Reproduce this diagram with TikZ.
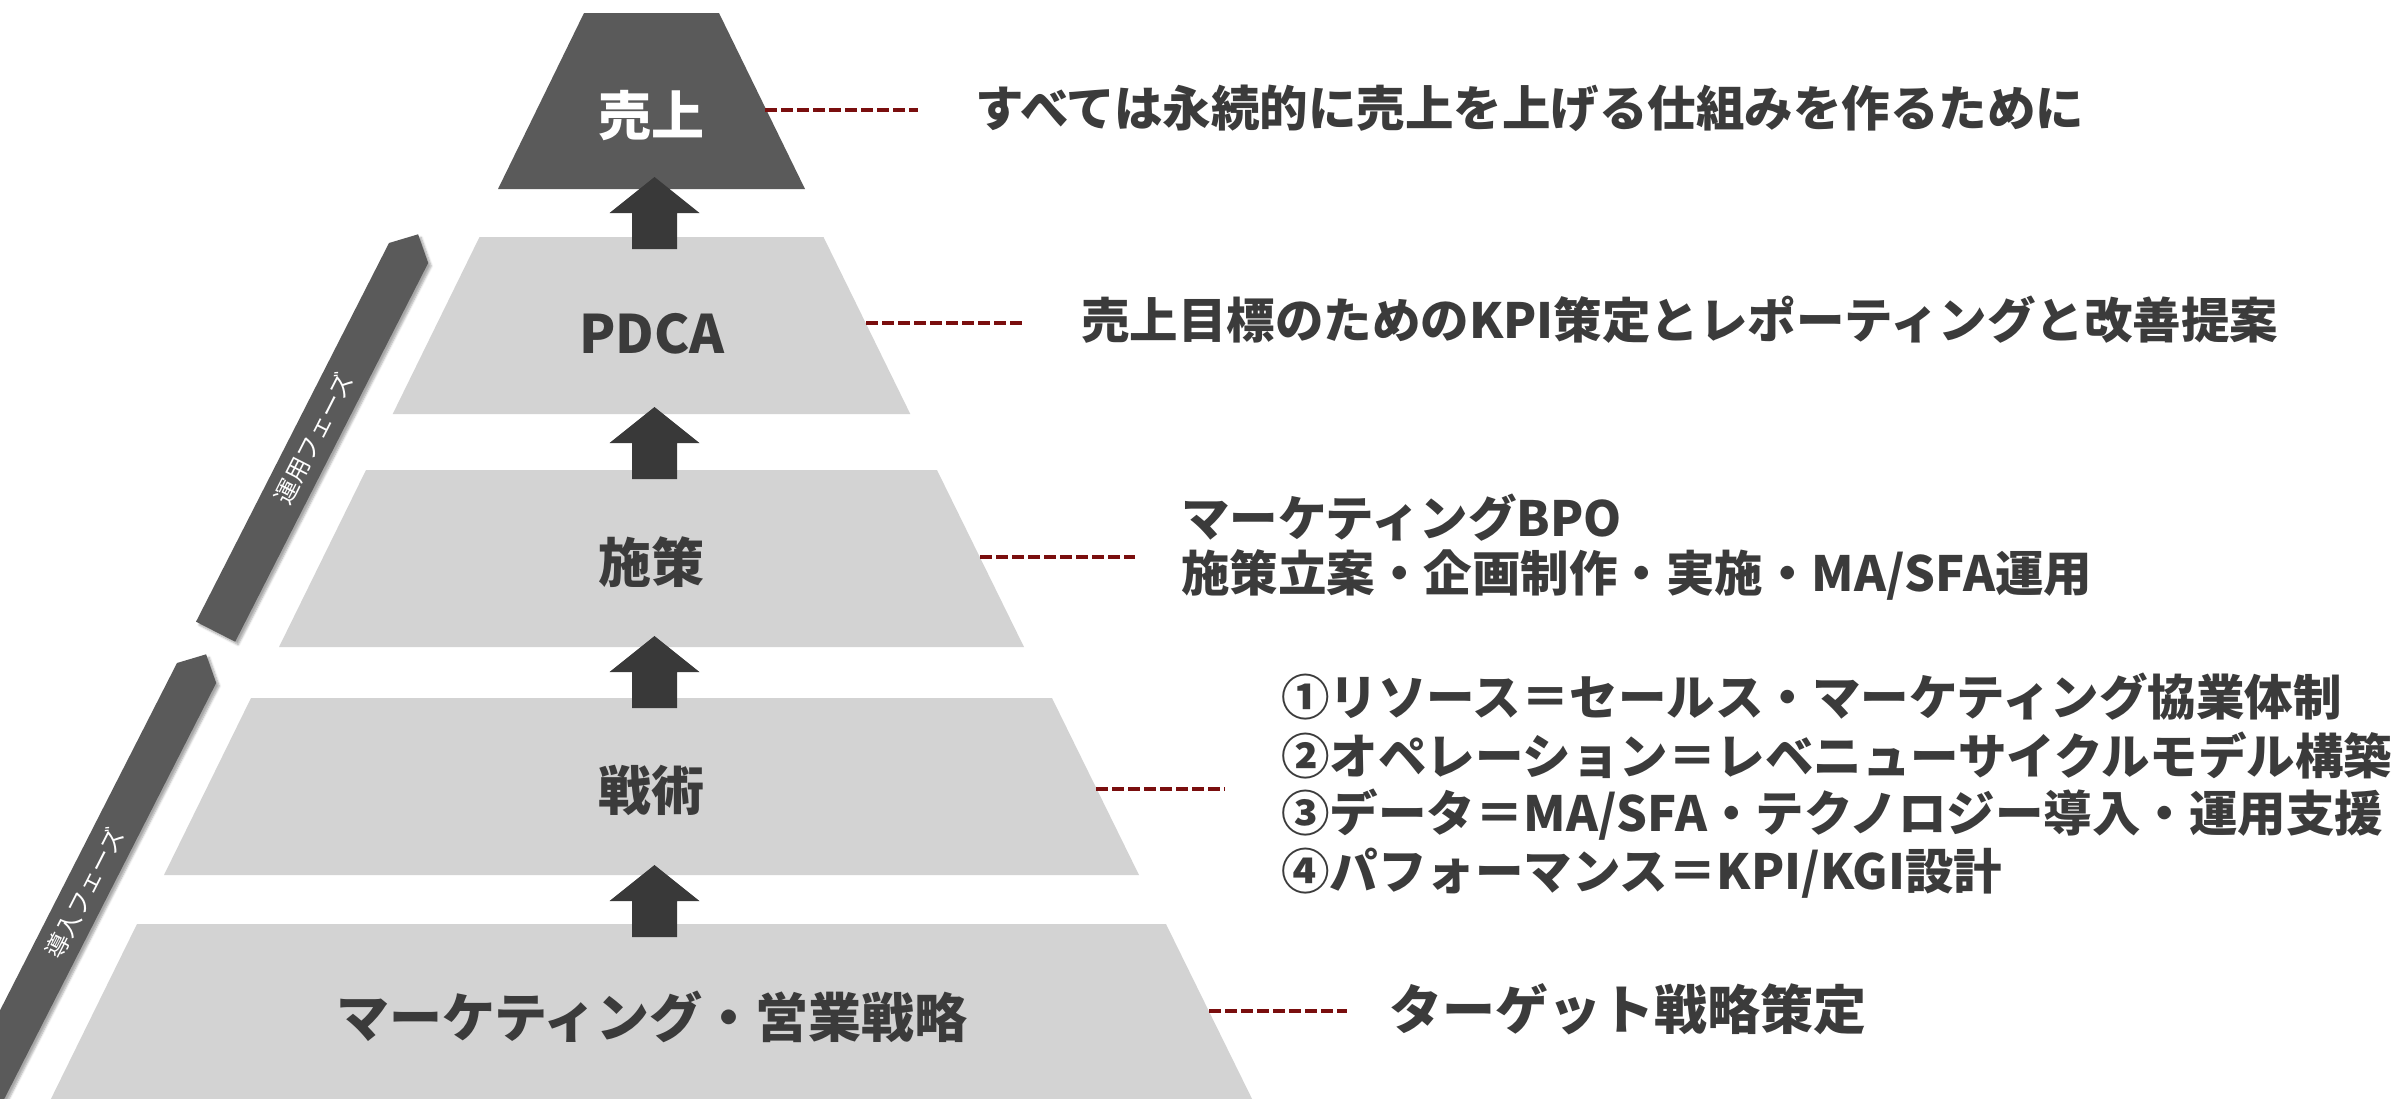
\documentclass[tikz,border=0pt]{standalone}
\usepackage{fontspec}
\setmainfont{Noto Sans CJK JP}
\usetikzlibrary{shadows.blur}
\definecolor{darkfill}{RGB}{90,90,90}
\definecolor{lightfill}{RGB}{211,211,211}
\definecolor{arrowfill}{RGB}{57,57,57}
\definecolor{txtc}{RGB}{59,59,59}
\definecolor{dashc}{RGB}{122,14,14}
\begin{document}
\begin{tikzpicture}[x=1pt,y=-1pt,
  lvl/.style={fill=lightfill},
  apex/.style={fill=darkfill},
  uparrow/.style={fill=arrowfill},
  lead/.style={draw=dashc, line width=4pt, dash pattern=on 12pt off 4pt},
  desc/.style={anchor=base west, inner sep=0pt, text=txtc, font=\fontsize{48.5}{58}\selectfont\bfseries},
  lbl/.style={anchor=base, inner sep=0pt, text=txtc, font=\fontsize{53}{60}\selectfont\bfseries},
  phasebar/.style={fill=darkfill, blur shadow={shadow xshift=3pt, shadow yshift=-3pt, shadow blur steps=6, shadow opacity=35}},
  phasetxt/.style={text=white, font=\fontsize{24}{24}\selectfont, rotate=63, inner sep=0pt}
]
\useasboundingbox (0,0) rectangle (2399,1098);
\clip (0,0) rectangle (2399,1098);

% phase bars
\path[phasebar] (389,243) -- (418.1,234.3) -- (428.2,263) -- (235.2,641.7) -- (196,621.7) -- cycle;
\node[phasetxt] (unyo) at (314.2,438.3) {運用フェーズ};
\path[phasebar] (177,663) -- (206.1,654.3) -- (216.2,683) -- (-56.2,1217.6) -- (-95.4,1197.6) -- cycle;
\node[phasetxt] (donyu) at (84.5,893.1) {導入フェーズ};

% pyramid levels
\path[apex] (584,13) -- (719,13) -- (805,189) -- (498,189) -- cycle;
\path[lvl] (479.5,237) -- (823.5,237) -- (910.3,414) -- (392.7,414) -- cycle;
\path[lvl] (366,470) -- (937,470) -- (1024,647) -- (279,647) -- cycle;
\path[lvl] (251,698) -- (1052,698) -- (1139,875) -- (164,875) -- cycle;
\path[lvl] (137,924) -- (1166,924) -- (1257.5,1110) -- (45.5,1110) -- cycle;

% level labels
\node[lbl, text=white] (l1) at (651.5,135) {売上};
\node[lbl] (l2) at (652,353) {PDCA};
\node[lbl] (l3) at (651.5,582) {施策};
\node[lbl] (l4) at (651.5,810) {戦術};
\node[lbl] (l5) at (652,1037) {マーケティング・営業戦略};

% up arrows
\foreach \t in {177,407,636,865}{
  \path[uparrow] (654.5,\t) -- (699.5,\t+36) -- (677,\t+36) -- (677,\t+72)
    -- (632,\t+72) -- (632,\t+36) -- (609.5,\t+36) -- cycle;
}

% descriptions
\node[desc] (d1) at (975,126) {すべては永続的に売上を上げる仕組みを作るために};
\node[desc] (d2) at (1081,338) {売上目標のためのKPI策定とレポーティングと改善提案};
\node[desc] (d3a) at (1181,536) {マーケティングBPO};
\node[desc] (d3b) at (1181,591) {施策立案・企画制作・実施・MA/SFA運用};
\node[desc] (d4a) at (1281,715) {①リソース＝セールス・マーケティング協業体制};
\node[desc] (d4b) at (1281,774) {②オペレーション＝レベニューサイクルモデル構築};
\node[desc] (d4c) at (1281,831) {③データ＝MA/SFA・テクノロジー導入・運用支援};
\node[desc] (d4d) at (1281,889) {④パフォーマンス＝KPI/KGI設計};
\node[desc, font=\fontsize{53}{60}\selectfont\bfseries] (d5) at (1389,1029) {ターゲット戦略策定};

% leaders
\coordinate (e1) at (765,110);   \coordinate (f1) at (918,110);
\coordinate (e2) at (866,323);   \coordinate (f2) at (1024,323);
\coordinate (e3) at (980,557);   \coordinate (f3) at (1135,557);
\coordinate (e4) at (1096,789);  \coordinate (f4) at (1225,789);
\coordinate (e5) at (1209,1011); \coordinate (f5) at (1347,1011);
\foreach \i in {1,...,5}{ \draw[lead] (e\i) -- (f\i); }
\end{tikzpicture}
\end{document}
